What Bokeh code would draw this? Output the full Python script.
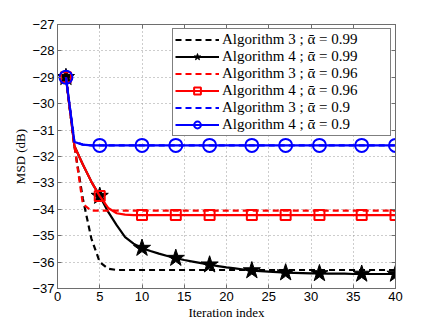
from bokeh.plotting import figure
from bokeh.models import LinearAxis, FixedTicker, Legend
from bokeh.embed import file_html
from bokeh.resources import INLINE

iters = list(range(1, 41))
marker_iters = [1, 5, 10, 14, 18, 23, 27, 31, 36, 40]

alg3_099 = [-29.0, -31.6, -33.6, -35.1, -36.0, -36.25, -36.3, -36.3, -36.3, -36.3,
            -36.3, -36.3, -36.3, -36.3, -36.3, -36.3, -36.3, -36.3, -36.3, -36.3,
            -36.3, -36.3, -36.3, -36.3, -36.3, -36.3, -36.3, -36.3, -36.3, -36.3,
            -36.3, -36.3, -36.3, -36.3, -36.3, -36.3, -36.3, -36.3, -36.3, -36.3]
alg4_099 = [-29.0, -31.6, -32.3, -32.95, -33.5, -34.1, -34.6, -35.05, -35.3, -35.47,
            -35.58, -35.68, -35.77, -35.85, -35.92, -35.98, -36.04, -36.1, -36.15, -36.2,
            -36.24, -36.28, -36.32, -36.34, -36.36, -36.38, -36.4, -36.41, -36.42, -36.43,
            -36.43, -36.44, -36.44, -36.44, -36.45, -36.45, -36.45, -36.45, -36.45, -36.45]
alg3_096 = [-29.0, -31.6, -33.8, -34.05, -34.05, -34.05, -34.05, -34.05, -34.05, -34.05,
            -34.05, -34.05, -34.05, -34.05, -34.05, -34.05, -34.05, -34.05, -34.05, -34.05,
            -34.05, -34.05, -34.05, -34.05, -34.05, -34.05, -34.05, -34.05, -34.05, -34.05,
            -34.05, -34.05, -34.05, -34.05, -34.05, -34.05, -34.05, -34.05, -34.05, -34.05]
alg4_096 = [-29.0, -31.6, -32.3, -32.95, -33.5, -33.95, -34.15, -34.2, -34.22, -34.22,
            -34.22, -34.22, -34.22, -34.22, -34.22, -34.22, -34.22, -34.22, -34.22, -34.22,
            -34.22, -34.22, -34.22, -34.22, -34.22, -34.22, -34.22, -34.22, -34.22, -34.22,
            -34.22, -34.22, -34.22, -34.22, -34.22, -34.22, -34.22, -34.22, -34.22, -34.22]
alg3_09 = [-29.0, -31.45, -31.55, -31.58, -31.58, -31.58, -31.58, -31.58, -31.58, -31.58,
           -31.58, -31.58, -31.58, -31.58, -31.58, -31.58, -31.58, -31.58, -31.58, -31.58,
           -31.58, -31.58, -31.58, -31.58, -31.58, -31.58, -31.58, -31.58, -31.58, -31.58,
           -31.58, -31.58, -31.58, -31.58, -31.58, -31.58, -31.58, -31.58, -31.58, -31.58]
alg4_09 = [-29.0, -31.45, -31.55, -31.58, -31.58, -31.58, -31.58, -31.58, -31.58, -31.58,
           -31.58, -31.58, -31.58, -31.58, -31.58, -31.58, -31.58, -31.58, -31.58, -31.58,
           -31.58, -31.58, -31.58, -31.58, -31.58, -31.58, -31.58, -31.58, -31.58, -31.58,
           -31.58, -31.58, -31.58, -31.58, -31.58, -31.58, -31.58, -31.58, -31.58, -31.58]

labels = ["Algorithm 3 ; \u03b1\u0304 = 0.99", "Algorithm 4 ; \u03b1\u0304 = 0.99",
          "Algorithm 3 ; \u03b1\u0304 = 0.96", "Algorithm 4 ; \u03b1\u0304 = 0.96",
          "Algorithm 3 ; \u03b1\u0304 = 0.9", "Algorithm 4 ; \u03b1\u0304 = 0.9"]
x_ticks = [0, 5, 10, 15, 20, 25, 30, 35, 40]
y_ticks = [-37, -36, -35, -34, -33, -32, -31, -30, -29, -28, -27]

SERIF = "Liberation Serif"
SANS = "Liberation Sans"
AXC = "#6e6e6e"

p = figure(width=428, height=322, x_range=(0, 40), y_range=(-37, -27),
           output_backend="svg", toolbar_location=None,
           min_border_left=57, min_border_right=33, min_border_top=24, min_border_bottom=31)
p.background_fill_color = "white"
p.border_fill_color = "white"
p.outline_line_color = AXC

def style_axis(ax, show_labels):
    ax.axis_line_color = AXC
    ax.major_tick_line_color = AXC
    ax.major_tick_in = 4
    ax.major_tick_out = 0
    ax.minor_tick_line_color = None
    if not show_labels:
        ax.major_label_text_font_size = "0px"
        ax.major_label_text_color = None

p.xaxis.ticker = FixedTicker(ticks=x_ticks)
p.yaxis.ticker = FixedTicker(ticks=y_ticks)
p.yaxis.major_label_overrides = {t: ("\u2212" + str(abs(t))) for t in y_ticks}
for ax in p.xaxis + p.yaxis:
    style_axis(ax, True)
    ax.major_label_text_font = SANS
    ax.major_label_text_font_size = "13px"
    ax.major_label_text_color = "black"
    ax.axis_label_text_font = SERIF
    ax.axis_label_text_font_size = "13px"
    ax.axis_label_text_font_style = "normal"
    ax.axis_label_text_color = "black"
    ax.major_label_standoff = 3
    ax.axis_label_standoff = 1
p.yaxis.axis_label_standoff = 1
p.xaxis.axis_label = "Iteration index"
p.yaxis.axis_label = "MSD (dB)"

top_ax = LinearAxis(ticker=FixedTicker(ticks=x_ticks))
right_ax = LinearAxis(ticker=FixedTicker(ticks=y_ticks))
for ax in (top_ax, right_ax):
    style_axis(ax, False)
    ax.major_label_standoff = 0
p.add_layout(top_ax, "above")
p.add_layout(right_ax, "right")

p.xgrid.ticker = FixedTicker(ticks=x_ticks)
p.ygrid.ticker = FixedTicker(ticks=y_ticks)
for g in (p.xgrid, p.ygrid):
    g.grid_line_color = "#9a9a9a"
    g.grid_line_dash = "1 3"
    g.grid_line_width = 1

def marks(vals):
    return [vals[i - 1] for i in marker_iters]

LW = 2.2
r1 = p.line(iters, alg3_099, color="black", line_width=LW, line_dash="6 4")
r2 = p.line(iters, alg4_099, color="black", line_width=LW)
r2m = p.scatter(marker_iters, marks(alg4_099), marker="star", size=18,
                fill_color="black", line_color="black")
r3 = p.line(iters, alg3_096, color="red", line_width=LW, line_dash="6 4")
r4 = p.line(iters, alg4_096, color="red", line_width=LW)
r4m = p.scatter(marker_iters, marks(alg4_096), marker="square", size=10,
                fill_color=None, line_color="red", line_width=2)
r5 = p.line(iters, alg3_09, color="blue", line_width=LW, line_dash="6 4")
r6 = p.line(iters, alg4_09, color="blue", line_width=LW)
r6m = p.scatter(marker_iters, marks(alg4_09), marker="circle", size=13,
                fill_color=None, line_color="blue", line_width=2)

legend = Legend(items=[(labels[0], [r1]), (labels[1], [r2, r2m]), (labels[2], [r3]),
                       (labels[3], [r4, r4m]), (labels[4], [r5]), (labels[5], [r6, r6m])],
                location="top_right")
legend.label_text_font = SERIF
legend.label_text_font_size = "15px"
legend.label_text_color = "black"
legend.label_height = 17
legend.label_width = 166
legend.glyph_height = 17
legend.glyph_width = 44
legend.spacing = 0
legend.padding = 2
legend.margin = 4
legend.label_standoff = 3
legend.border_line_color = "black"
legend.border_line_width = 1
legend.background_fill_alpha = 1
p.add_layout(legend, "center")

open("out.html", "w").write(file_html(p, INLINE))
